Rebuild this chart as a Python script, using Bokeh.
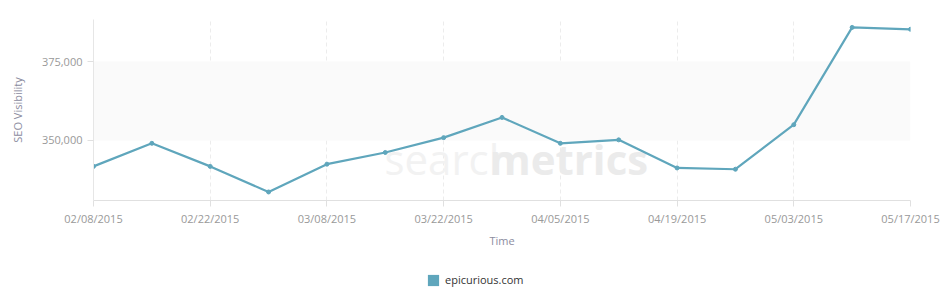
import pandas as pd
from bokeh.plotting import figure
from bokeh.layouts import column
from bokeh.models import (FixedTicker, NumeralTickFormatter, BoxAnnotation, Label,
                          Legend, LegendItem, CustomJSTickFormatter, Range1d)
from bokeh.embed import file_html
from bokeh.resources import INLINE

# ---- data ----
dates = ["2015-02-08", "2015-02-15", "2015-02-22", "2015-03-01", "2015-03-08",
         "2015-03-15", "2015-03-22", "2015-03-29", "2015-04-05", "2015-04-12",
         "2015-04-19", "2015-04-26", "2015-05-03", "2015-05-10", "2015-05-17"]
visibility = [341800, 349100, 341800, 333700, 342500, 346200, 350900, 357300,
              349100, 350200, 341300, 340900, 355000, 385800, 385200]
tick_labels = ["02/08/2015", "02/22/2015", "03/08/2015", "03/22/2015",
               "04/05/2015", "04/19/2015", "05/03/2015", "05/17/2015"]
y_ticks = [350000, 375000]
series_name = "epicurious.com"

x = pd.to_datetime(dates)
tick_ms = [float(pd.Timestamp(pd.to_datetime(t, format="%m/%d/%Y")).value // 10**6) for t in tick_labels]

FONT = "Open Sans"
GREY = "#999999"
LINE = "#5fa6bc"

p = figure(width=946, height=256, x_axis_type="datetime", output_backend="svg",
           toolbar_location=None, min_border_left=93, min_border_right=36,
           min_border_top=19, min_border_bottom=56,
           y_range=Range1d(331000, 388300),
           x_range=Range1d(x[0], x[-1]))
p.outline_line_color = None
p.background_fill_color = "white"
p.border_fill_color = "white"

# plot band
p.add_layout(BoxAnnotation(bottom=y_ticks[0], top=y_ticks[1], fill_color="#fafafa",
                           fill_alpha=1, line_color=None, level="underlay"))

# watermark
p.add_layout(Label(x=291, y=14, x_units="screen", y_units="screen", text="search",
                   text_font=FONT, text_font_size="42px", text_color="#f2f2f2",
                   text_font_style="normal", level="underlay"))
p.add_layout(Label(x=396, y=14, x_units="screen", y_units="screen", text="metrics",
                   text_font=FONT, text_font_size="42px", text_color="#ebebeb",
                   text_font_style="bold", level="underlay"))

r = p.line(x, visibility, line_color=LINE, line_width=2.2)
p.scatter(x, visibility, size=4, color=LINE)

# axes
p.xaxis.ticker = FixedTicker(ticks=tick_ms)
p.xaxis.formatter = CustomJSTickFormatter(args=dict(tpos=tick_ms, tlab=tick_labels), code="""
    let best = 0;
    for (let i = 0; i < tpos.length; i++) {
        if (Math.abs(tpos[i] - tick) < Math.abs(tpos[best] - tick)) best = i;
    }
    return tlab[best];
""")
p.yaxis.ticker = FixedTicker(ticks=y_ticks)
p.yaxis.formatter = NumeralTickFormatter(format="0,0")
p.xaxis.axis_label = "Time"
p.yaxis.axis_label = "SEO Visibility"

for ax in (p.xaxis, p.yaxis):
    ax.axis_line_color = "#e0e0e0"
    ax.major_tick_line_color = "#e0e0e0"
    ax.minor_tick_line_color = None
    ax.major_label_text_font = FONT
    ax.major_label_text_font_size = "11px"
    ax.major_label_text_color = GREY
    ax.axis_label_text_font = FONT
    ax.axis_label_text_font_size = "11px"
    ax.axis_label_text_color = "#8c8ca0"
    ax.axis_label_text_font_style = "normal"
p.xaxis.major_tick_in = 0
p.xaxis.major_tick_out = 6
p.yaxis.major_tick_in = 0
p.yaxis.major_tick_out = 6
p.yaxis.axis_line_color = "#e6e6e6"
p.xaxis.axis_label_standoff = 4
p.yaxis.axis_label_standoff = 14
p.xaxis.major_label_standoff = 4

p.xgrid.ticker = FixedTicker(ticks=tick_ms)
p.xgrid.grid_line_color = "#ececec"
p.xgrid.grid_line_dash = "4 3"
p.ygrid.grid_line_color = None

# ---- legend strip below the chart ----
lg = figure(width=946, height=40, output_backend="svg", toolbar_location=None,
            min_border=0, x_range=Range1d(0, 1), y_range=Range1d(0, 1))
lg.axis.visible = False
lg.grid.visible = False
lg.outline_line_color = None
sw = lg.rect([0.5], [0.5], width=0, height=0, fill_color=LINE, line_color=None)
legend = Legend(items=[LegendItem(label=series_name, renderers=[sw])],
                location=(333, 9), orientation="horizontal",
                label_text_font=FONT, label_text_font_size="11px",
                label_text_color="#333333", glyph_width=14, glyph_height=14,
                border_line_color=None, background_fill_alpha=0, padding=0, margin=0,
                label_standoff=5, label_height=14)
lg.add_layout(legend, "center")

layout = column(p, lg, spacing=0)
open("out.html", "w").write(file_html(layout, INLINE))
